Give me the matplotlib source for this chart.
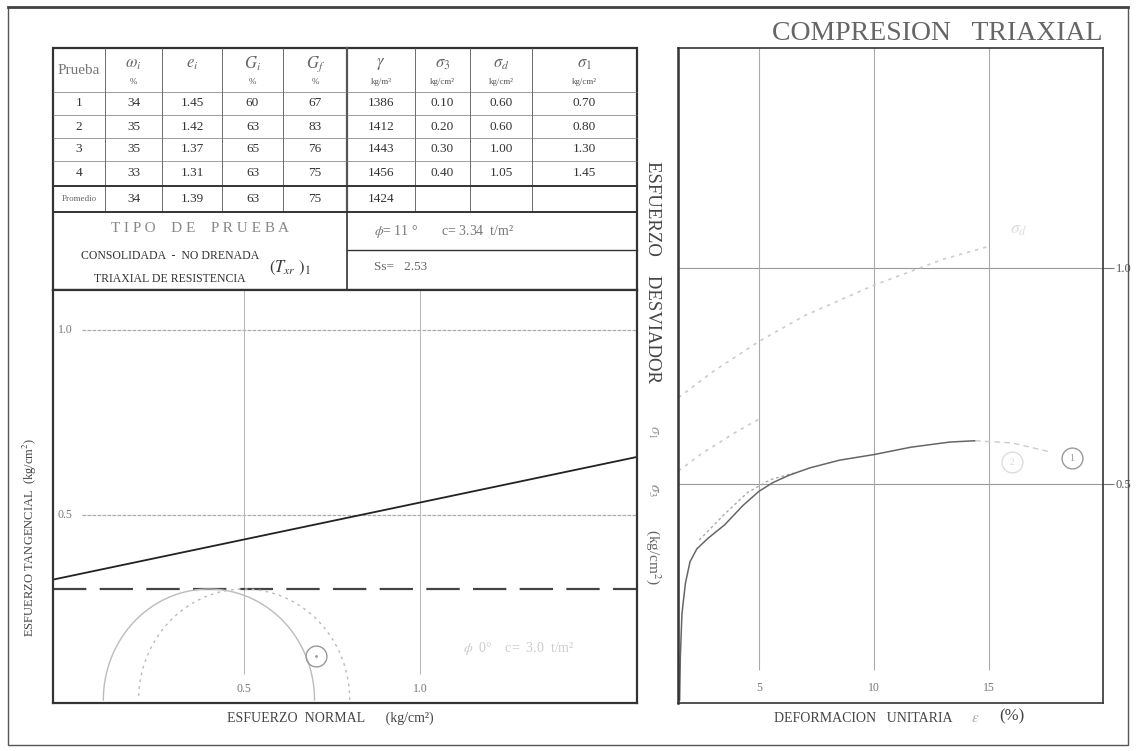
import numpy as np
import matplotlib
matplotlib.use('Agg')
import matplotlib.pyplot as plt
from matplotlib.patches import Rectangle

plt.rcParams['font.family'] = ['Liberation Serif', 'DejaVu Serif']
plt.rcParams['mathtext.fontset'] = 'stix'

# ---- table data ----
prueba = ['1', '2', '3', '4']
w_i = ['34', '35', '35', '33']
e_i = ['1.45', '1.42', '1.37', '1.31']
G_i = ['60', '63', '65', '63']
G_f = ['67', '83', '76', '75']
gamma = ['1386', '1412', '1443', '1456']
sig3 = [0.10, 0.20, 0.30, 0.40]
sigd = [0.60, 0.60, 1.00, 1.05]
sig1 = [0.70, 0.80, 1.30, 1.45]
promedio = ['34', '1.39', '63', '75', '1424', '', '', '']
headers = ['Prueba', r'$\omega_i$', r'$e_i$', r'$G_i$', r'$G_f$', r'$\gamma$',
           r'$\sigma_3$', r'$\sigma_d$', r'$\sigma_1$']
units = ['', '%', '', '%', '%', 'kg/m³', 'kg/cm²', 'kg/cm²', 'kg/cm²']

# strength parameters (kg/cm2, degrees)
c_env = 0.334
phi_env = 11.3
c_u = 0.30

# ---- stress-strain curves (strain %, deviator stress kg/cm2) ----
eps_1 = [1.55, 1.58, 1.65, 1.8, 2.0, 2.3, 2.8, 3.5, 4.3, 5.0, 5.6, 6.3, 7.2, 8.5,
         10.0, 11.6, 13.3, 14.4]
sd_1 = [0.0, 0.10, 0.20, 0.27, 0.32, 0.35, 0.375, 0.405, 0.45, 0.483, 0.503, 0.52,
        0.537, 0.555, 0.568, 0.585, 0.597, 0.60]
eps_1b = [14.4, 16.0, 17.6]
sd_1b = [0.60, 0.595, 0.575]
eps_2 = [2.4, 3.5, 4.5, 5.5, 6.5]
sd_2 = [0.37, 0.43, 0.48, 0.51, 0.525]
eps_3 = [1.5, 2.5, 4.0, 5.0]
sd_3 = [0.53, 0.57, 0.62, 0.65]
eps_4 = [1.5, 3.0, 5.0, 7.0, 10.0, 13.0, 15.0]
sd_4 = [0.70, 0.76, 0.83, 0.89, 0.96, 1.02, 1.05]

W, H = 1136, 751
fig = plt.figure(figsize=(W / 100, H / 100), dpi=100)


def box(x0, y0, x1, y1):
    return [x0 / W, 1 - y1 / H, (x1 - x0) / W, (y1 - y0) / H]


# background layer in pixel units, for frame and table
bg = fig.add_axes([0, 0, 1, 1])
bg.set_xlim(0, W)
bg.set_ylim(H, 0)
bg.axis('off')
bg.add_patch(Rectangle((8, 7), 1120, 738, fill=False, lw=1.0, ec='#555'))
bg.plot([8, 1128], [7, 7], color='#444', lw=2)

ink = '#333'
col_x = [53, 105, 162, 222, 283, 347, 415, 470, 532, 637]
row_y = [48, 92, 115, 138, 161, 186, 212]

# table grid
for x in col_x[1:-1]:
    lw = 1.6 if x == 347 else 0.6
    bg.plot([x, x], [48, 212], color='#555', lw=lw)
for y in row_y[1:-2]:
    bg.plot([53, 637], [y, y], color='#777', lw=0.5)
bg.plot([53, 637], [186, 186], color='#333', lw=1.4)
bg.plot([53, 637], [212, 212], color='#333', lw=1.4)
bg.add_patch(Rectangle((53, 48), 584, 242, fill=False, lw=1.6, ec='#333'))
bg.plot([347, 347], [212, 290], color='#333', lw=1.2)
bg.plot([347, 637], [250, 250], color='#333', lw=1.0)

cx = [(col_x[i] + col_x[i + 1]) / 2 for i in range(9)]
for i, h in enumerate(headers):
    if i == 0:
        bg.text(cx[i], 70, h, ha='center', va='center', fontsize=11, color='#777')
    else:
        bg.text(cx[i], 64, h, ha='center', va='center', fontsize=12, color='#666')
        bg.text(cx[i], 82, units[i], ha='center', va='center', fontsize=6.5, color='#555')

cols = [prueba, w_i, e_i, G_i, G_f, gamma,
        ['%.2f' % v for v in sig3], ['%.2f' % v for v in sigd], ['%.2f' % v for v in sig1]]
for r in range(4):
    yc = (row_y[r + 1] + row_y[r + 2]) / 2
    for j, col in enumerate(cols):
        bg.text(cx[j], yc, col[r], ha='center', va='center', fontsize=9.5, color=ink)
yp = (row_y[5] + row_y[6]) / 2
bg.text(cx[0], yp, 'Promedio', ha='center', va='center', fontsize=6.5, color='#666')
for j, v in enumerate(promedio):
    bg.text(cx[j + 1], yp, v, ha='center', va='center', fontsize=9.5, color=ink)

bg.text(200, 229, 'T I P O    D E    P R U E B A', ha='center', va='center',
        fontsize=11, color='#888')
bg.text(170, 256, 'CONSOLIDADA  -  NO DRENADA', ha='center', va='center',
        fontsize=8.5, color=ink)
bg.text(170, 279, 'TRIAXIAL DE RESISTENCIA', ha='center', va='center',
        fontsize=8.5, color=ink)
bg.text(290, 268, r'$(T_{xr}\ )_1$', ha='center', va='center', fontsize=12, color=ink)
bg.text(374, 231, r'$\phi$= %d °       c= %.2f  t/m²' % (round(phi_env), c_env * 10),
        ha='left', va='center', fontsize=10, color='#777')
bg.text(374, 267, 'Ss=   2.53', ha='left', va='center', fontsize=9.5, color='#666')

# ---- Mohr diagram ----
ax1 = fig.add_axes(box(53, 290, 637, 703))
ax1.set_xlim(-0.043, 1.616)
ax1.set_ylim(-0.008, 1.108)
ax1.set_xticks([])
ax1.set_yticks([])
for s in ax1.spines.values():
    s.set_linewidth(1.6)
    s.set_color('#333')

for yv in [0.5, 1.0]:
    ax1.hlines(yv, 0.04, 1.616, color='#aaa', lw=0.9, linestyles=(0, (3, 1)))
    ax1.text(-0.03, yv, '%.1f' % yv, ha='left', va='center', fontsize=8.5, color='#777')
for xv in [0.5, 1.0]:
    ax1.vlines(xv, 0.07, 1.108, color='#bbb', lw=0.8)
    ax1.text(xv, 0.03, '%.1f' % xv, ha='center', va='center', fontsize=8.5, color='#777')

sig = np.array([-0.1, 1.7])
ax1.plot(sig, c_env + sig * np.tan(np.radians(phi_env)), color='#222', lw=1.3)
ax1.axhline(c_u, color='#444', lw=1.6, dashes=(15, 6))

th = np.linspace(0, np.pi, 200)
for k, (st, sl) in enumerate(zip(sig3[:2], sig1[:2])):
    cen, rad = (st + sl) / 2, (sl - st) / 2
    ls = '-' if k == 0 else (0, (2, 3))
    ax1.plot(cen + rad * np.cos(th), rad * np.sin(th), color='#bbb', lw=1.0, ls=ls)

ax1.plot(0.705, 0.12, 'o', ms=15, mfc='none', mec='#999', mew=1.0)
ax1.plot(0.705, 0.12, '.', ms=2, color='#999')
ax1.text(1.28, 0.14, r'$\phi$  0°    c=  3.0  t/m²', ha='center', va='center',
         fontsize=10, color='#ccc')

bg.text(30, 537, 'ESFUERZO TANGENCIAL  (kg/cm$^2$)', rotation=90, ha='center',
        va='center', fontsize=9, color='#444')
bg.text(330, 718, 'ESFUERZO  NORMAL      (kg/cm²)', ha='center', va='center',
        fontsize=10, color='#444')

# ---- stress-strain diagram ----
ax2 = fig.add_axes(box(678, 48, 1103, 703))
ax2.set_xlim(1.478, 19.96)
ax2.set_ylim(-0.007, 1.509)
for s in ax2.spines.values():
    s.set_linewidth(1.2)
    s.set_color('#333')
ax2.spines['left'].set_linewidth(1.8)
ax2.set_xticks([])
ax2.yaxis.tick_right()
ax2.set_yticks([0.5, 1.0])
ax2.set_yticklabels(['0.5', '1.0'])
ax2.tick_params(axis='y', length=8, width=0.8, color='#777', labelsize=9,
                labelcolor='#555', pad=1)

for yv in [0.5, 1.0]:
    ax2.axhline(yv, color='#999', lw=0.8)
for xv in [5, 10, 15]:
    ax2.vlines(xv, 0.07, 1.509, color='#aaa', lw=0.8)
    ax2.text(xv, 0.028, str(xv), ha='center', va='center', fontsize=8.5, color='#777')

ax2.plot(eps_4, sd_4, color='#ccc', lw=1.2, ls=(0, (2, 3)))
ax2.plot(eps_3, sd_3, color='#ccc', lw=1.2, ls=(0, (2, 3)))
ax2.plot(eps_2, sd_2, color='#aaa', lw=1.0, ls=(0, (2, 2)))
ax2.plot(eps_1, sd_1, color='#666', lw=1.1)
ax2.plot(eps_1b, sd_1b, color='#ccc', lw=1.0, ls=(0, (4, 3)))

ax2.plot(18.6, 0.56, 'o', ms=15, mfc='none', mec='#999', mew=1.0)
ax2.text(18.6, 0.56, '1', ha='center', va='center', fontsize=7, color='#999')
ax2.plot(16.0, 0.55, 'o', ms=15, mfc='none', mec='#ddd', mew=1.0)
ax2.text(16.0, 0.55, '2', ha='center', va='center', fontsize=7, color='#ddd')
ax2.text(16.3, 1.09, r'$\sigma_d$', ha='center', va='center', fontsize=13, color='#ddd')

fig.text(1103 / W, 1 - 33 / H, 'COMPRESION   TRIAXIAL', ha='right', va='center',
         fontsize=20, color='#666')
bg.text(653, 272, 'ESFUERZO    DESVIADOR', rotation=270, ha='center', va='center',
        fontsize=13.5, color='#444')
bg.text(653, 432, r'$\sigma_1$', rotation=270, ha='center', va='center',
        fontsize=11, color='#999')
bg.text(653, 490, r'$\sigma_3$', rotation=270, ha='center', va='center',
        fontsize=11, color='#888')
bg.text(653, 557, '(kg/cm$^2$)', rotation=270, ha='center', va='center',
        fontsize=11, color='#666')
bg.text(863, 718, 'DEFORMACION   UNITARIA', ha='center', va='center',
        fontsize=10, color='#444')
bg.text(975, 718, r'$\varepsilon$', ha='center', va='center', fontsize=11, color='#aaa')
bg.text(1012, 716, '(%)', ha='center', va='center', fontsize=12, color='#444')

fig.savefig('out.png', dpi=100)
